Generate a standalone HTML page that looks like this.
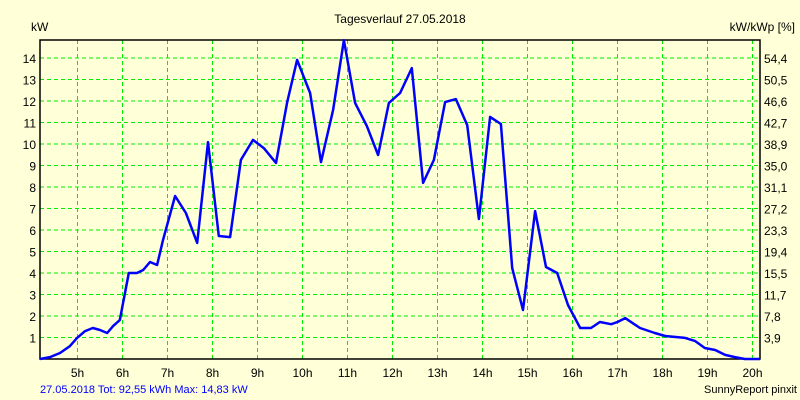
<!DOCTYPE html>
<html><head><meta charset="utf-8"><style>
body{margin:0;background:#ffffd8;}
svg{display:block;font-family:"Liberation Sans",sans-serif;}
</style></head><body>
<svg id="chart" width="800" height="400">
<rect width="800" height="400" fill="#ffffd8"/>
<text x="400" y="23" font-size="12" text-anchor="middle">Tagesverlauf 27.05.2018</text>
<text x="31" y="31" font-size="12">kW</text>
<text x="795" y="31" font-size="12" text-anchor="end">kW/kWp [%]</text>
<text x="40" y="393" font-size="11" fill="#0000ff">27.05.2018 Tot: 92,55 kWh Max: 14,83 kW</text>
<text x="797" y="393" font-size="11" text-anchor="end">SunnyReport pinxit</text>
<g id="grid"></g>
<g id="axes"></g>
<path id="line" fill="none" stroke="#0000ff" stroke-width="2.5" stroke-linejoin="round"/>
</svg>
<script>
const hours=[4.17,4.39,4.61,4.83,4.99,5.17,5.34,5.5,5.66,5.79,5.94,6.14,6.32,6.46,6.61,6.77,6.9,7.17,7.41,7.66,7.9,8.14,8.39,8.63,8.9,9.14,9.41,9.66,9.88,10.17,10.41,10.68,10.92,11.17,11.43,11.68,11.92,12.17,12.43,12.68,12.92,13.17,13.41,13.66,13.92,14.17,14.41,14.66,14.9,15.17,15.41,15.66,15.9,16.17,16.41,16.61,16.86,17.0,17.17,17.5,17.83,18.06,18.5,18.72,18.94,19.17,19.39,19.61,19.83,20.17];
const kw=[0,0.09,0.28,0.6,0.98,1.3,1.44,1.35,1.21,1.53,1.81,4.0,4.0,4.14,4.51,4.37,5.53,7.58,6.79,5.4,10.09,5.72,5.67,9.26,10.19,9.81,9.12,11.95,13.91,12.37,9.16,11.58,14.83,11.91,10.84,9.49,11.91,12.37,13.53,8.19,9.26,11.95,12.09,10.88,6.51,11.26,10.93,4.23,2.28,6.88,4.28,4.0,2.51,1.44,1.44,1.72,1.62,1.72,1.9,1.44,1.21,1.07,0.98,0.84,0.51,0.42,0.19,0.09,0,0];
const yTicks=[1,2,3,4,5,6,7,8,9,10,11,12,13,14];
const pctLabels=["3,9","7,8","11,7","15,5","19,4","23,3","27,2","31,1","35,0","38,9","42,7","46,6","50,5","54,4"];
const xTicks=[5,6,7,8,9,10,11,12,13,14,15,16,17,18,19,20];
const L=40,R=760,T=40,B=359;
const X=h=>77.5+(h-5)*45;
const Y=v=>B-v*21.5;
const NS="http://www.w3.org/2000/svg";
const grid=document.getElementById('grid'),axes=document.getElementById('axes');
function mk(tag,attrs,parent){const e=document.createElementNS(NS,tag);for(const k in attrs)e.setAttribute(k,attrs[k]);parent.appendChild(e);return e;}
yTicks.forEach((v,i)=>{
 const y=Y(v);
 const g=mk('line',{x1:L,x2:R,y1:y,y2:y,stroke:'#00ee00','stroke-dasharray':'4,3'},grid);
 
 
 const t=mk('text',{x:36,y:y+5,'font-size':12,'text-anchor':'end'},axes);t.textContent=v;
 
 
 const t2=mk('text',{x:764,y:y+5,'font-size':12},axes);t2.textContent=pctLabels[i];
 
 
});
xTicks.forEach(h=>{
 const x=X(h);
 const g=mk('line',{x1:x,x2:x,y1:T,y2:B,stroke:'#00ee00','stroke-dasharray':'4,3'},grid);
 
 
 const t=mk('text',{x:x,y:377,'font-size':12,'text-anchor':'middle'},axes);t.textContent=h+'h';
 
 
});
const fr=mk('rect',{x:L,y:T,width:R-L,height:B-T,fill:'none',stroke:'#000','stroke-width':1.5},axes);


document.getElementById('line').setAttribute('d',hours.map((h,i)=>(i?'L':'M')+Math.min(R,Math.max(L,X(h))).toFixed(1)+','+Y(kw[i]).toFixed(1)).join(''));
</script>
</body></html>
